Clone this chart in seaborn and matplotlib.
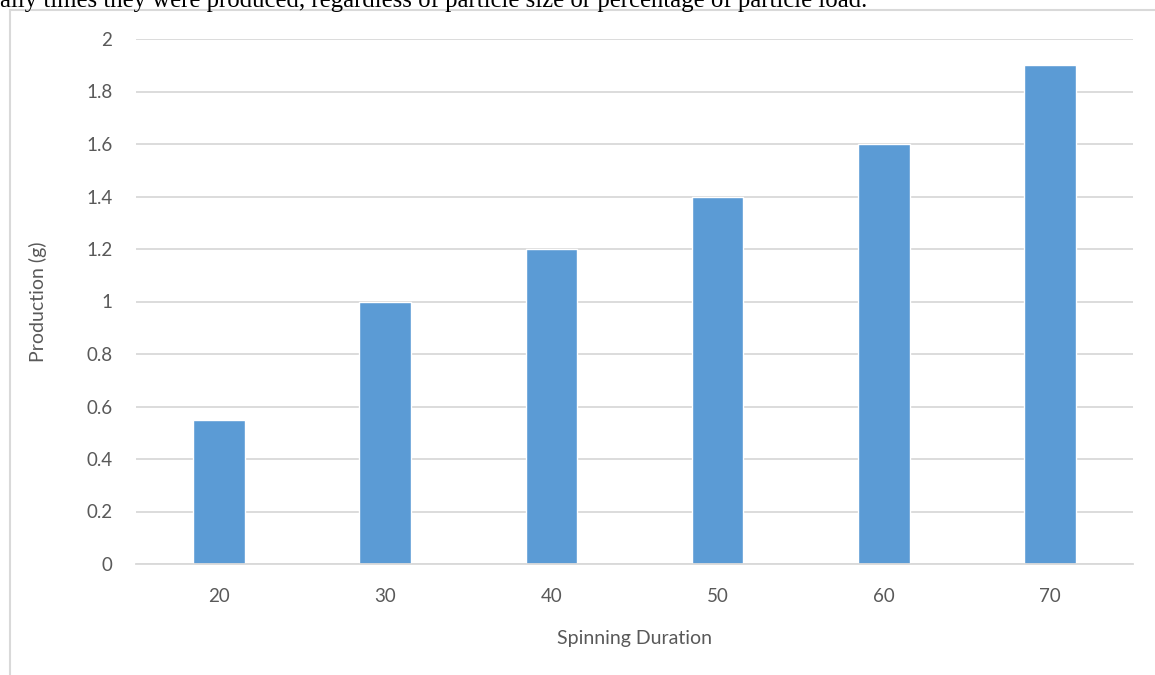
import matplotlib

matplotlib.use("Agg")
import matplotlib.pyplot as plt
import pandas as pd
import seaborn as sns
from matplotlib.lines import Line2D

durations = ["20", "30", "40", "50", "60", "70"]
production = [0.55, 1.0, 1.2, 1.4, 1.6, 1.9]
y_ticks = [0, 0.2, 0.4, 0.6, 0.8, 1, 1.2, 1.4, 1.6, 1.8, 2]
y_tick_labels = ["0", "0.2", "0.4", "0.6", "0.8", "1", "1.2", "1.4", "1.6", "1.8", "2"]
caption = "ally times they were produced, regardless of particle size or percentage of particle load."

sns.set_theme(style="white")
plt.rcParams["font.family"] = ["Lato", "DejaVu Sans"]

df = pd.DataFrame({"duration": durations, "production": production})

fig = plt.figure(figsize=(11.55, 6.75), dpi=100)
ax = fig.add_axes([136 / 1155, 1 - 564 / 675, 997 / 1155, 525 / 675])

sns.barplot(data=df, x="duration", y="production", color="#5B9BD5", saturation=1,
            width=0.31, ax=ax)

ax.set_ylim(0, 2)
ax.set_yticks(y_ticks)
ax.set_yticklabels(y_tick_labels)
ax.yaxis.grid(True, color="#D9D9D9", linewidth=1.3)
ax.set_axisbelow(True)
for side in ["top", "right", "left"]:
    ax.spines[side].set_visible(False)
ax.spines["bottom"].set_color("#D9D9D9")
ax.spines["bottom"].set_linewidth(1.3)
ax.tick_params(axis="both", length=0, labelsize=13.5, colors="#595959")
ax.tick_params(axis="y", pad=17)
ax.tick_params(axis="x", pad=17)
ax.set_xlabel("Spinning Duration", fontsize=14, color="#595959", labelpad=18)
ax.set_ylabel("Production (g)", fontsize=14, color="#595959", labelpad=28)

# chart frame and the cut-off line of text above it in the source page
fig.add_artist(Line2D([10 / 1155, 10 / 1155], [0, 1 - 10 / 675], transform=fig.transFigure,
                      color="#D9D9D9", linewidth=1.5))
fig.add_artist(Line2D([10 / 1155, 1], [1 - 10 / 675, 1 - 10 / 675], transform=fig.transFigure,
                      color="#D9D9D9", linewidth=1.5))
fig.text(0, 1 - 7 / 675, caption, family=["Liberation Serif"], fontsize=17.8,
         color="black", va="baseline", ha="left")

fig.savefig("out.png", dpi=100)
